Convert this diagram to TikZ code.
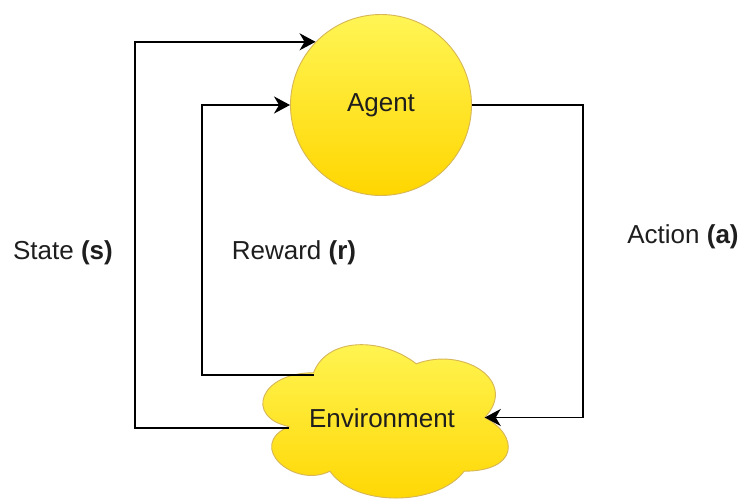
\documentclass[tikz,border=0pt]{standalone}
\usepackage{fontspec}
\setmainfont{Liberation Sans}
\usetikzlibrary{arrows.meta}
\definecolor{ytop}{RGB}{255,245,85}
\definecolor{ybot}{RGB}{255,214,0}
\definecolor{yline}{RGB}{214,182,86}
\definecolor{txt}{RGB}{30,30,30}
\begin{document}
\begin{tikzpicture}[
  arr/.style={draw=black,line width=1.9pt,-{Stealth[length=16pt,width=17pt,inset=5pt]}},
  lbl/.style={text=txt,font=\fontsize{26}{30}\selectfont,inner sep=0pt},
  yellow shape/.style={draw=yline,line width=0.9pt,top color=ytop,bottom color=ybot}]
\begin{scope}[x=1pt,y=-1pt]
\useasboundingbox[fill=white] (0,0) rectangle (742,500);
% Agent
\node[circle,yellow shape,minimum size=181pt,inner sep=0pt,lbl] (agent) at (381,105) {Agent};
% Environment cloud (box x 245..519, y 328..507)
\def\cx{245}\def\cy{328}\def\cw{274}\def\ch{179}
\path[yellow shape]
  ({\cx+0.25*\cw},{\cy+0.25*\ch})
  .. controls ({\cx+0.05*\cw},{\cy+0.25*\ch}) and ({\cx+0*\cw},{\cy+0.5*\ch}) .. ({\cx+0.16*\cw},{\cy+0.55*\ch})
  .. controls ({\cx+0*\cw},{\cy+0.66*\ch}) and ({\cx+0.18*\cw},{\cy+0.9*\ch}) .. ({\cx+0.31*\cw},{\cy+0.8*\ch})
  .. controls ({\cx+0.4*\cw},{\cy+1*\ch}) and ({\cx+0.7*\cw},{\cy+1*\ch}) .. ({\cx+0.8*\cw},{\cy+0.8*\ch})
  .. controls ({\cx+1*\cw},{\cy+0.8*\ch}) and ({\cx+1*\cw},{\cy+0.6*\ch}) .. ({\cx+0.875*\cw},{\cy+0.5*\ch})
  .. controls ({\cx+1*\cw},{\cy+0.3*\ch}) and ({\cx+0.8*\cw},{\cy+0.1*\ch}) .. ({\cx+0.625*\cw},{\cy+0.2*\ch})
  .. controls ({\cx+0.5*\cw},{\cy+0.05*\ch}) and ({\cx+0.3*\cw},{\cy+0.05*\ch}) .. ({\cx+0.25*\cw},{\cy+0.25*\ch})
  -- cycle;
\node[lbl] (env) at (382,418) {Environment};
\coordinate (envR) at ({\cx+0.875*\cw},{\cy+0.5*\ch});
\coordinate (envTL) at ({\cx+0.25*\cw},375);
\coordinate (envL) at ({\cx+0.16*\cw},428);
\coordinate (stateCorner) at (135,428);
\coordinate (rewardCorner) at (202,375);
\coordinate (actionCorner) at (583,105);
% labels
\node[lbl] (state) at (63,253) {State \textbf{(s)}};
\node[lbl] (reward) at (294,253) {Reward \textbf{(r)}};
\node[lbl] (action) at (683,237) {Action \textbf{(a)}};
\end{scope}
% connectors
\draw[arr] (envL) -- (stateCorner) |- (agent.136.5);
\draw[arr] (envTL) -- (rewardCorner) |- (agent.west);
\draw[arr] (agent.east) -- (actionCorner) |- (envR);
\end{tikzpicture}
\end{document}
